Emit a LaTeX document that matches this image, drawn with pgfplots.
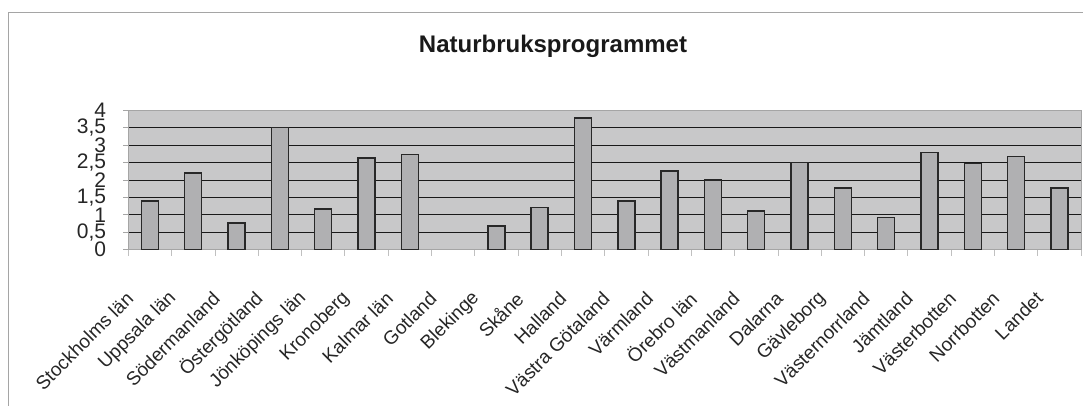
\documentclass[border=0pt]{standalone}
\usepackage{pgfplots}
\pgfplotsset{compat=1.18}
\usepackage{fontspec}
\setmainfont{Liberation Sans}
\definecolor{plotbg}{RGB}{200,200,201}
\definecolor{barfill}{RGB}{176,176,178}
\definecolor{baredge}{RGB}{40,40,40}
\definecolor{framegray}{RGB}{165,165,165}
\begin{document}
\begin{tikzpicture}
\path[use as bounding box] (0pt,0pt) rectangle (1083pt,405pt);
\draw[framegray, line width=0.8pt] (8pt,-10pt) rectangle (1095pt,393pt);
\node[anchor=base, font=\fontsize{24}{28}\selectfont\bfseries, text=black!90] at (553pt,352pt) {Naturbruksprogrammet};
\begin{axis}[
  at={(128.3pt,155.3pt)}, anchor=south west,
  scale only axis, width=952.7pt, height=139.7pt,
  xmin=-0.5, xmax=21.5, ymin=0, ymax=4,
  ybar, bar width=17pt,
  axis background/.style={fill=plotbg},
  axis line style={draw=framegray, line width=0.8pt},
  tick pos=left,
  xtick={0,...,21},
  xticklabels={Stockholms län,Uppsala län,Södermanland,Östergötland,Jönköpings län,Kronoberg,Kalmar län,Gotland,Blekinge,Skåne,Halland,Västra Götaland,Värmland,Örebro län,Västmanland,Dalarna,Gävleborg,Västernorrland,Jämtland,Västerbotten,Norrbotten,Landet},
  major x tick style={draw=none},
  minor xtick={-0.5,0.5,...,21.5},
  minor tick length=6pt,
  minor x tick style={draw=framegray!70, line width=0.7pt},
  ytick={0,0.5,...,4},
  major tick length=5pt,
  tick align=outside,
  ytick style={draw=framegray, line width=0.7pt},
  ymajorgrids, major grid style={draw=black!90, line width=0.7pt},
  /pgf/number format/use comma,
  /pgf/number format/assume math mode=true,
  yticklabel style={font=\fontsize{21}{21}\selectfont, text=black!85, anchor=east, inner sep=0pt, xshift=-17pt},
  xticklabel style={font=\fontsize{19}{19}\selectfont, text=black!85, inner sep=0pt, anchor=east, xshift=-20pt, yshift=-40.5pt, rotate=45},
  clip=false,
]
\addplot[fill=barfill, draw=baredge, line width=1.4pt] coordinates {
(0,1.4) (1,2.2) (2,0.77) (3,3.5) (4,1.16) (5,2.63) (6,2.72)
(8,0.68) (9,1.2) (10,3.77) (11,1.39) (12,2.25) (13,2.0) (14,1.11)
(15,2.49) (16,1.77) (17,0.92) (18,2.78) (19,2.46) (20,2.67) (21,1.77)
};
\end{axis}
\end{tikzpicture}
\end{document}
